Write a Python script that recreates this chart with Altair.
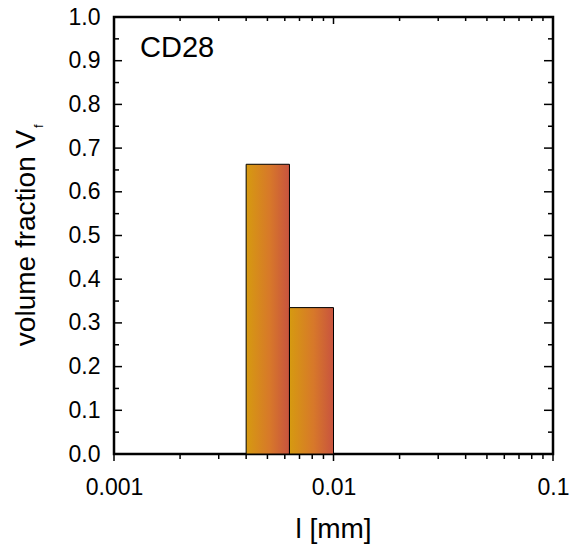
import altair as alt
import pandas as pd

# ---- data ----
bin_left = [0.004, 0.0063]
bin_right = [0.0063, 0.01]
volume_fraction = [0.663, 0.335]

x_major = [0.001, 0.01, 0.1]
x_minor = [0.002, 0.003, 0.004, 0.005, 0.006, 0.007, 0.008, 0.009,
           0.02, 0.03, 0.04, 0.05, 0.06, 0.07, 0.08, 0.09]
y_major = [0.0, 0.1, 0.2, 0.3, 0.4, 0.5, 0.6, 0.7, 0.8, 0.9, 1.0]
y_minor = [0.05, 0.15, 0.25, 0.35, 0.45, 0.55, 0.65, 0.75, 0.85, 0.95]

W, H = 439, 437
FONT = "Liberation Sans"

bars_df = pd.DataFrame({"l0": bin_left, "l1": bin_right, "vf": volume_fraction})
xs = alt.Scale(type="log", domain=[0.001, 0.1])
ys = alt.Scale(domain=[0, 1])

x_axis = alt.Axis(values=x_major, format="~g", ticks=False, tickSize=0, domain=False,
                  grid=False, labelFontSize=23, labelFont=FONT, labelColor="black",
                  labelPadding=22, title=None, labelFlush=False)
y_axis = alt.Axis(values=y_major, format=".1f", ticks=False, tickSize=0, domain=False,
                  grid=False, labelFontSize=23, labelFont=FONT, labelColor="black",
                  labelPadding=14, title=None, labelFlush=False)

grad = alt.LinearGradient(
    gradient="linear",
    stops=[alt.GradientStop(color="#D69A10", offset=0),
           alt.GradientStop(color="#D7782A", offset=0.55),
           alt.GradientStop(color="#C8533F", offset=1)],
    x1=0, x2=1, y1=0, y2=0,
)

bars = alt.Chart(bars_df).mark_bar(fill=grad, stroke="black", strokeWidth=1).encode(
    x=alt.X("l0:Q", scale=xs, axis=x_axis),
    x2="l1:Q",
    y=alt.Y("vf:Q", scale=ys, axis=y_axis),
    y2=alt.datum(0),
)

def xticks(vals, y0, y1, w):
    return alt.Chart(pd.DataFrame({"t": vals})).mark_rule(color="black", strokeWidth=w).encode(
        x=alt.X("t:Q", scale=xs, axis=x_axis), y=alt.value(y0), y2=alt.value(y1))

def yticks(vals, x0, x1, w):
    return alt.Chart(pd.DataFrame({"t": vals})).mark_rule(color="black", strokeWidth=w).encode(
        y=alt.Y("t:Q", scale=ys, axis=y_axis), x=alt.value(x0), x2=alt.value(x1))

tick_layers = [
    xticks(x_major, H, H + 7, 1.5),
    xticks(x_minor, H, H + 5, 1.5),
    xticks(x_major, 0, 7, 1.5),
    xticks(x_minor, 0, 4, 1.5),
    yticks(y_major, 0, 8, 1.5),
    yticks(y_minor, 0, 5, 1.5),
    yticks(y_major, W, W - 9, 1.5),
    yticks(y_minor, W, W - 5, 1.5),
]

def label(text, x, y, size, angle=0, align="center", baseline="alphabetic"):
    return alt.Chart(pd.DataFrame({"s": [text]})).mark_text(
        font=FONT, fontSize=size, color="black", angle=angle, align=align, baseline=baseline
    ).encode(text="s:N", x=alt.value(x), y=alt.value(y))

texts = [
    label("CD28", 26, 40, 29, align="left"),
    label("l [mm]", W / 2, 521, 28),
    label("volume fraction V", -79, 221, 28, angle=270),
    label("f", -71, 111, 13, angle=270, align="left"),
]

chart = alt.layer(bars, *tick_layers, *texts).properties(
    width=W, height=H,
    autosize=alt.AutoSizeParams(type="none"),
    padding={"left": 114, "top": 17, "right": 18, "bottom": 96},
    background="white",
).configure_view(stroke="black", strokeWidth=2.5)

chart.save("out.html", embed_options={"renderer": "svg", "actions": False})
